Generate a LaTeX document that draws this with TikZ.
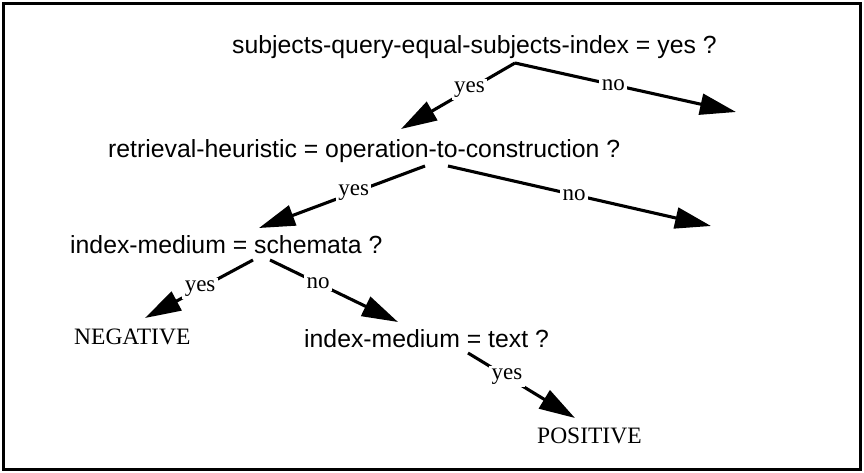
\documentclass[tikz,border=0pt]{standalone}
\usepackage{fontspec}
\setmainfont{Liberation Serif}
\newfontfamily\sansf{Liberation Sans}
\usetikzlibrary{arrows.meta}
\begin{document}
\begin{tikzpicture}[x=1pt,y=-1pt,
  question/.style={anchor=base west,inner sep=0pt,font=\sansf\fontsize{24.8}{30}\selectfont},
  leaf/.style={anchor=base west,inner sep=0pt,font=\fontsize{23.5}{28}\selectfont},
  edgelabel/.style={fill=white,inner sep=2.5pt,font=\fontsize{23}{28}\selectfont},
  branch/.style={line width=3.1pt,-{Triangle[length=36pt,width=21pt]}}]
\useasboundingbox (0,0) rectangle (864,472);
\draw[line width=3pt] (3,3) rectangle (860,469);
\node[question] (q1) at (232,53) {subjects-query-equal-subjects-index = yes ?};
\node[question] (q2) at (108,157) {retrieval-heuristic = operation-to-construction ?};
\node[question] (q3) at (70,253) {index-medium = schemata ?};
\node[question] (q4) at (304,347) {index-medium = text ?};
\node[leaf] (neg) at (74,344) {NEGATIVE};
\node[leaf] (pos) at (537,443) {POSITIVE};
\coordinate (q1o) at (515,63);
\coordinate (q2y) at (425,166);
\coordinate (q2n) at (448,166);
\coordinate (q3y) at (253,260);
\coordinate (q3n) at (270,260);
\coordinate (q4y) at (468,353);
\coordinate (q2in) at (401,129);
\coordinate (q1no) at (736,112);
\coordinate (q3in) at (259,228);
\coordinate (q2no) at (711,226);
\coordinate (negin) at (145,318);
\coordinate (q4in) at (398,322);
\coordinate (posin) at (575,418);
\draw[branch] (q1o) -- node[edgelabel,pos=0.40] (l1) {yes} (q2in);
\draw[branch] (q1o) -- node[edgelabel,pos=0.445] (l2) {no} (q1no);
\draw[branch] (q2y) -- node[edgelabel,pos=0.43] (l3) {yes} (q3in);
\draw[branch] (q2n) -- node[edgelabel,pos=0.48] (l4) {no} (q2no);
\draw[branch] (q3y) -- node[edgelabel,pos=0.49] (l5) {yes} (negin);
\draw[branch] (q3n) -- node[edgelabel,pos=0.375] (l6) {no} (q4in);
\draw[branch] (q4y) -- node[edgelabel,pos=0.365] (l7) {yes} (posin);
\end{tikzpicture}
\end{document}
